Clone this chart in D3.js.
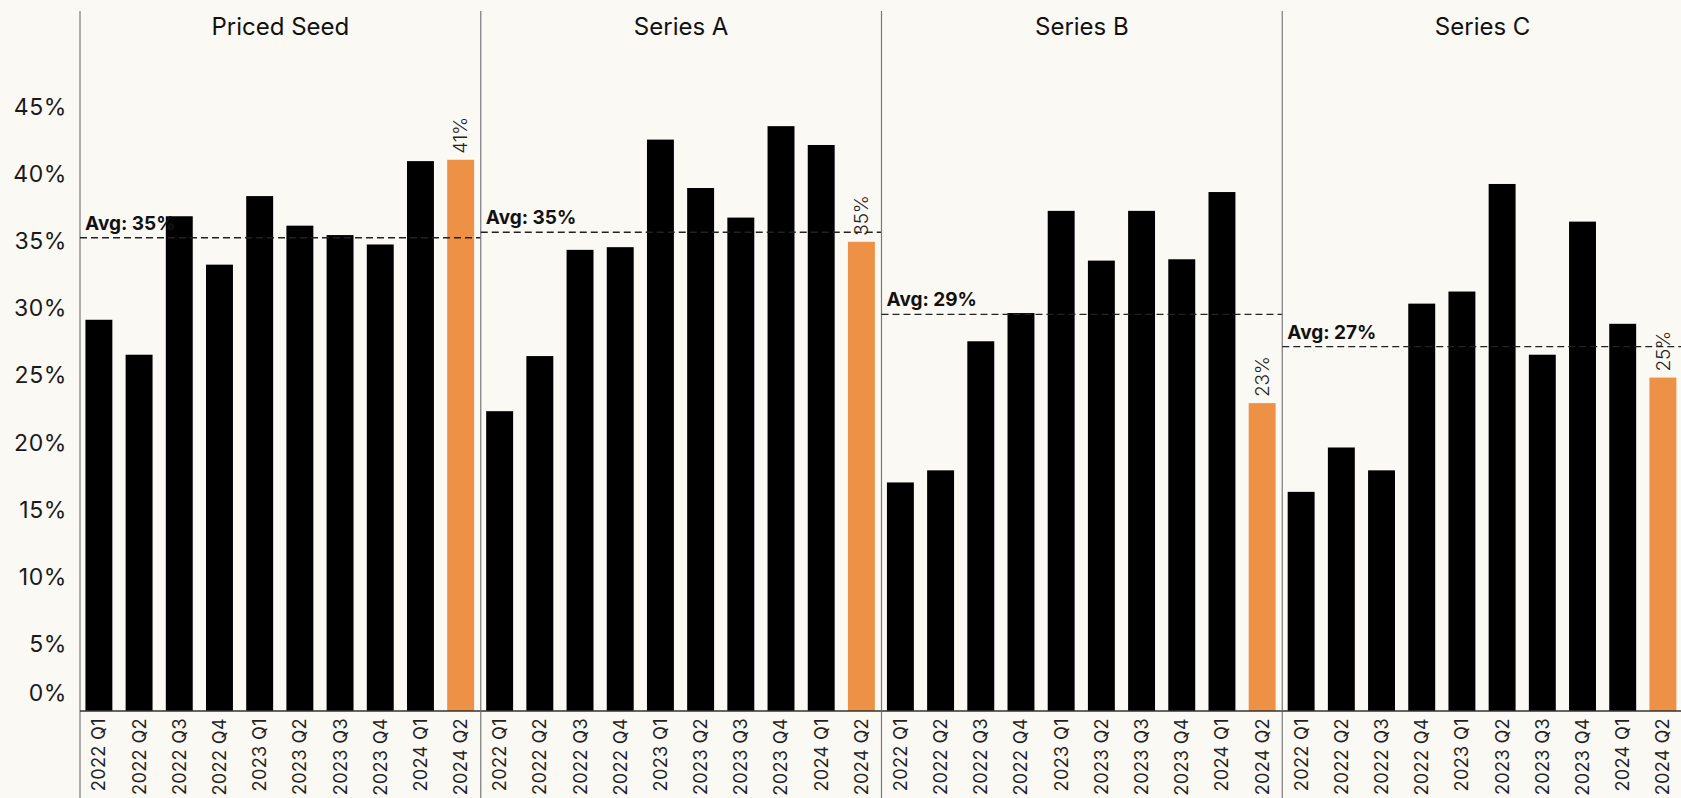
<!DOCTYPE html>
<html>
<head>
<meta charset="utf-8">
<script src="https://cdn.jsdelivr.net/npm/d3@7"></script>
<style>
  html, body { margin: 0; padding: 0; background: #FBF9F4; }
  svg { display: block; font-family: "Inter", "Noto Sans", sans-serif; }
</style>
</head>
<body>
<svg id="chart" width="1681" height="798"></svg>
<script>
// Quarterly share by funding stage (percent)
const quarters = ["2022 Q1", "2022 Q2", "2022 Q3", "2022 Q4", "2023 Q1", "2023 Q2", "2023 Q3", "2023 Q4", "2024 Q1", "2024 Q2"];
const stages = ["Priced Seed", "Series A", "Series B", "Series C"];
const pricedSeed = [29.1, 26.5, 36.8, 33.2, 38.3, 36.1, 35.4, 34.7, 40.9, 41.0];
const seriesA    = [22.3, 26.4, 34.3, 34.5, 42.5, 38.9, 36.7, 43.5, 42.1, 34.9];
const seriesB    = [17.0, 17.9, 27.5, 29.6, 37.2, 33.5, 37.2, 33.6, 38.6, 22.9];
const seriesC    = [16.3, 19.6, 17.9, 30.3, 31.2, 39.2, 26.5, 36.4, 28.8, 24.8];
const yTicks = [0, 5, 10, 15, 20, 25, 30, 35, 40, 45];

const seriesByStage = [pricedSeed, seriesA, seriesB, seriesC];
const latestQuarter = quarters[quarters.length - 1];

const W = 1681, H = 798;
const left = 80, right = 1683, baseY = 711, topY = 106;
const barColor = "#000000", highlight = "#EC9146";

const svg = d3.select("#chart");
svg.append("rect").attr("width", W).attr("height", H).attr("fill", "#FBF9F4");

const y = d3.scaleLinear().domain([0, 45]).range([baseY, topY]);
const panel = d3.scaleBand().domain(stages).range([left, right]).padding(0);

// y-axis tick labels
const yAxis = d3.axisLeft(y).tickValues(yTicks).tickSize(0).tickPadding(0)
  .tickFormat(d => d + "%");
const yg = svg.append("g").attr("transform", "translate(67,0)").call(yAxis);
yg.select(".domain").remove();
yg.selectAll("text")
  .attr("font-size", 23).attr("fill", "#1a1a1a").attr("font-weight", 400)
  .attr("font-family", "Inter, sans-serif").attr("letter-spacing", "0.6px")
  .attr("dy", d => d === 0 ? "-0.45em" : "0.35em");

stages.forEach((stage, i) => {
  const values = seriesByStage[i];
  const x0 = panel(stage), pw = panel.bandwidth();
  const g = svg.append("g");

  const x = d3.scaleBand().domain(quarters).range([x0, x0 + pw])
    .paddingInner(0.33).paddingOuter(0.15).align(0.45);

  // panel divider
  g.append("line")
    .attr("x1", x0).attr("x2", x0).attr("y1", 11).attr("y2", H)
    .attr("stroke", "#7a7a7a").attr("stroke-width", 1.2);

  // title
  g.append("text")
    .attr("x", x0 + pw / 2).attr("y", 35)
    .attr("text-anchor", "middle")
    .attr("font-size", 24).attr("fill", "#111")
    .text(stage);

  // bars
  g.selectAll("rect.bar").data(quarters).join("rect")
    .attr("class", "bar")
    .attr("x", q => x(q))
    .attr("width", x.bandwidth())
    .attr("y", (q, j) => y(values[j]))
    .attr("height", (q, j) => y(0) - y(values[j]))
    .attr("fill", q => q === latestQuarter ? highlight : barColor);

  // value label on the latest quarter
  const lastVal = values[values.length - 1];
  const lx = x(latestQuarter) + x.bandwidth() / 2;
  g.append("text")
    .attr("transform", `translate(${lx},${y(lastVal) - 6}) rotate(-90)`)
    .attr("dy", "0.36em")
    .attr("font-size", 19).attr("fill", "#222").attr("font-weight", 300)
    .text(Math.round(lastVal) + "%");

  // average line
  const avg = d3.mean(values);
  g.append("line")
    .attr("x1", x0).attr("x2", x0 + pw)
    .attr("y1", y(avg)).attr("y2", y(avg))
    .attr("stroke", "#222").attr("stroke-width", 1.3)
    .attr("stroke-dasharray", "7,4");
  g.append("text")
    .attr("x", x0 + 5).attr("y", y(avg) - 8)
    .attr("font-size", 19).attr("font-weight", 700).attr("fill", "#111")
    .text("Avg: " + Math.floor(avg) + "%");

  // x-axis labels
  const xAxis = d3.axisBottom(x).tickSize(0).tickPadding(0);
  const xg = g.append("g").attr("transform", `translate(0,${baseY})`).call(xAxis);
  xg.select(".domain").remove();
  xg.selectAll("text")
    .attr("font-size", 18).attr("fill", "#222").attr("font-family", "Inter, sans-serif")
    .attr("letter-spacing", "0.4px")
    .attr("text-anchor", "end")
    .attr("transform", "rotate(-90)")
    .attr("x", -7).attr("y", 0).attr("dy", "0.36em");

  // baseline
  g.append("line")
    .attr("x1", x0).attr("x2", x0 + pw)
    .attr("y1", baseY).attr("y2", baseY)
    .attr("stroke", "#333").attr("stroke-width", 1.6);
});
</script>
</body>
</html>
